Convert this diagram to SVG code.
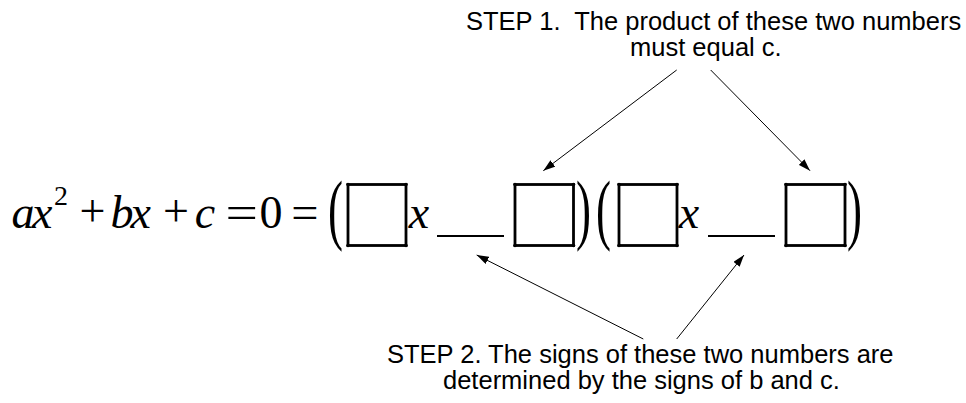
<svg xmlns="http://www.w3.org/2000/svg" width="966" height="403" viewBox="0 0 966 403">
<style>
.lbl{font-family:"Liberation Sans",Arial,sans-serif;font-size:25.5px;fill:#000}
.m{font-family:"Liberation Serif","Times New Roman",serif;font-size:46px;fill:#000;text-anchor:middle}
.s{text-anchor:start}
.i{font-style:italic}
.box{fill:none;stroke:#000;stroke-width:2.8}
.dot{fill:#000}
.par{font-family:"Liberation Serif","Times New Roman",serif;font-size:45px;fill:#000}
.ln{stroke:#000;stroke-width:1;fill:none}
.us{stroke:#000;stroke-width:1.8}
</style>
<defs>
<marker id="ah" markerUnits="userSpaceOnUse" markerWidth="12" markerHeight="8" refX="12" refY="4" orient="auto">
<path d="M0,0 L12,4 L0,8 z" fill="#000"/>
</marker>
</defs>
<rect width="966" height="403" fill="#fff"/>
<g id="equation">
<text class="m i s" x="11.5" y="228" letter-spacing="-2.5">ax</text>
<text class="m" x="61" y="205" style="font-size:28px">2</text>
<text class="m" x="92.5" y="226">+</text>
<text class="m i s" x="110.5" y="228" letter-spacing="-3">bx</text>
<text class="m" x="176" y="226">+</text>
<text class="m i" x="205" y="228">c</text>
<text class="m" x="241.7" y="228" transform="translate(241.7,0) scale(1.25,1) translate(-241.7,0)">=</text>
<text class="m" x="271" y="228">0</text>
<text class="m" x="305" y="228" transform="translate(305,0) scale(1.05,1) translate(-305,0)">=</text>
<text class="par" transform="translate(328,235) scale(1,1.76)">(</text>
<text class="m i" x="419" y="228">x</text>
<line class="us" x1="437" y1="236" x2="504" y2="236"/>
<text class="par" transform="translate(576,235) scale(1,1.76)">)</text>
<text class="par" transform="translate(596,235) scale(1,1.76)">(</text>
<text class="m i" x="689" y="228">x</text>
<line class="us" x1="708" y1="236" x2="775" y2="236"/>
<text class="par" transform="translate(847,235) scale(1,1.76)">)</text>
</g>
<g id="box1">
<rect class="box" x="348" y="184.5" width="58" height="61"/>
<circle class="dot" cx="348" cy="184.5" r="1.8"/><circle class="dot" cx="406" cy="184.5" r="1.8"/><circle class="dot" cx="348" cy="245.5" r="1.8"/><circle class="dot" cx="406" cy="245.5" r="1.8"/>
</g>
<g id="box2">
<rect class="box" x="515" y="184.5" width="58.5" height="61"/>
<circle class="dot" cx="515" cy="184.5" r="1.8"/><circle class="dot" cx="573.5" cy="184.5" r="1.8"/><circle class="dot" cx="515" cy="245.5" r="1.8"/><circle class="dot" cx="573.5" cy="245.5" r="1.8"/>
</g>
<g id="box3">
<rect class="box" x="619" y="184.5" width="58" height="61"/>
<circle class="dot" cx="619" cy="184.5" r="1.8"/><circle class="dot" cx="677" cy="184.5" r="1.8"/><circle class="dot" cx="619" cy="245.5" r="1.8"/><circle class="dot" cx="677" cy="245.5" r="1.8"/>
</g>
<g id="box4">
<rect class="box" x="786" y="184.5" width="59" height="61"/>
<circle class="dot" cx="786" cy="184.5" r="1.8"/><circle class="dot" cx="845" cy="184.5" r="1.8"/><circle class="dot" cx="786" cy="245.5" r="1.8"/><circle class="dot" cx="845" cy="245.5" r="1.8"/>
</g>
<g id="step1">
<text class="lbl" x="466" y="29.5" xml:space="preserve">STEP 1.  The product of these two numbers</text>
<text class="lbl" x="630" y="55.5">must equal c.</text>
</g>
<g id="step2">
<text class="lbl" x="387" y="362.5">STEP 2. The signs of these two numbers are</text>
<text class="lbl" x="443" y="388.5">determined by the signs of b and c.</text>
</g>
<g id="connectors">
<line class="ln" x1="676.7" y1="70" x2="543.3" y2="170.7" marker-end="url(#ah)"/>
<line class="ln" x1="710.7" y1="70" x2="810" y2="170.7" marker-end="url(#ah)"/>
<line class="ln" x1="643.3" y1="339" x2="476.7" y2="255" marker-end="url(#ah)"/>
<line class="ln" x1="676.7" y1="339" x2="744" y2="255" marker-end="url(#ah)"/>
</g>
</svg>
